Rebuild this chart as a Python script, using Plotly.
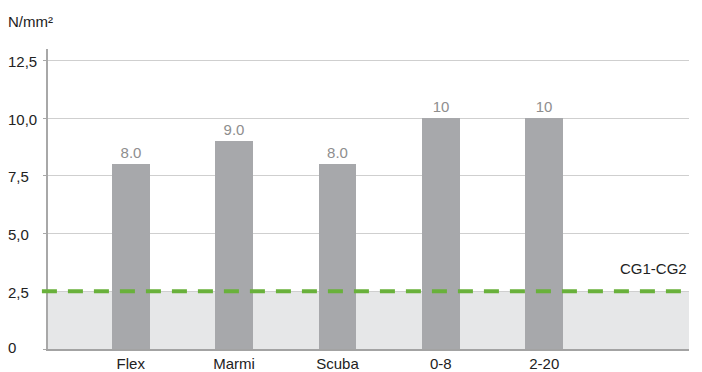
import plotly.graph_objects as go

categories = ["Flex", "Marmi", "Scuba", "0-8", "2-20"]
values = [8.0, 9.0, 8.0, 10, 10]
value_labels = ["8.0", "9.0", "8.0", "10", "10"]
y_ticks = [0, 2.5, 5.0, 7.5, 10.0, 12.5]
y_tick_labels = ["0", "2,5", "5,0", "7,5", "10,0", "12,5"]
threshold = 2.5
threshold_label = "CG1-CG2"
unit_label = "N/mm²"

FONT = "Liberation Sans, Arial, Helvetica, sans-serif"

fig = go.Figure()
fig.add_trace(go.Bar(
    x=categories, y=values,
    marker=dict(color="#a7a8ab", line=dict(width=0)),
    width=0.367,
    text=value_labels, textposition="outside",
    textfont=dict(family=FONT, size=15, color="#8e8e8e"),
    cliponaxis=False,
    hoverinfo="skip",
))

# light band under threshold
fig.add_shape(type="rect", xref="paper", yref="y", x0=0, x1=1, y0=0, y1=threshold,
              fillcolor="#e6e7e8", line=dict(width=0), layer="below")
# dashed threshold line
fig.add_shape(type="line", xref="paper", yref="y", x0=-0.0095, x1=1, y0=threshold, y1=threshold,
              line=dict(color="#69b13b", width=4, dash="15px,11px"), layer="above")

annotations = []
for v, t in zip(y_ticks, y_tick_labels):
    annotations.append(dict(x=0, xref="paper", xshift=-42, y=v, yref="y",
                            yshift=(2 if v == 0 else -1),
                            text=t, showarrow=False, xanchor="left", yanchor="middle",
                            font=dict(family=FONT, size=15, color="#222222")))
annotations.append(dict(x=0, xref="paper", xshift=-42, y=1, yref="paper", yshift=17,
                        text=unit_label, showarrow=False, xanchor="left", yanchor="bottom",
                        font=dict(family=FONT, size=15, color="#222222")))
annotations.append(dict(x=1, xref="paper", y=threshold, yref="y", yshift=12,
                        text=threshold_label, showarrow=False, xanchor="right", yanchor="bottom",
                        font=dict(family=FONT, size=15, color="#222222")))

fig.update_layout(
    width=702, height=372,
    margin=dict(l=48, r=13, t=49, b=23, autoexpand=False),
    paper_bgcolor="white", plot_bgcolor="white",
    showlegend=False,
    bargap=0,
    annotations=annotations,
    xaxis=dict(type="category", range=[-0.80, 5.40], showgrid=False,
               showline=True, linecolor="#a3a3a3", linewidth=2,
               ticks="", tickfont=dict(family=FONT, size=15, color="#222222"),
               ticklabelstandoff=0, automargin=False,
               fixedrange=True),
    yaxis=dict(range=[0, 13.0], tickvals=y_ticks, showticklabels=False,
               showgrid=True, gridcolor="#cfcfcf", gridwidth=1,
               zeroline=False, showline=True, linecolor="#a8a8a8", linewidth=2,
               ticks="outside", ticklen=3, tickcolor="#a8a8a8", tickwidth=1,
               automargin=False, fixedrange=True),
)

fig.write_html("out.html")
